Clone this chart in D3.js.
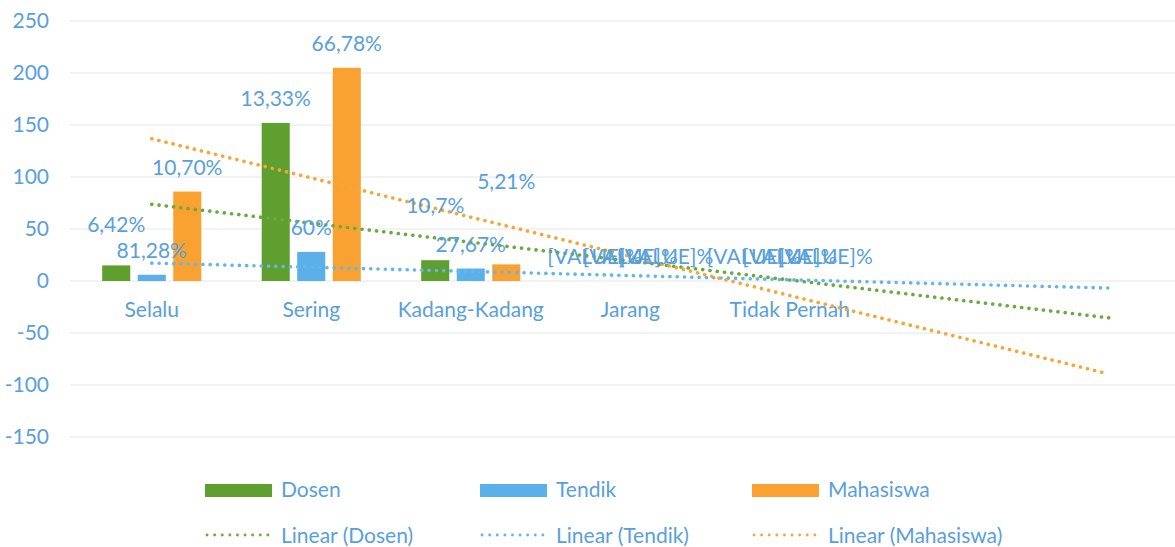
<!DOCTYPE html>
<html>
<head>
<meta charset="utf-8">
<script src="https://cdn.jsdelivr.net/npm/d3@7"></script>
<style>
  body { margin: 0; background: #fff; }
  svg text { font-family: Lato, "Open Sans", sans-serif; fill: #58a0dd; }
</style>
</head>
<body>
<div id="chart"></div>
<script>
// categories shown on the x axis (trendlines are forecast 2 periods forward)
const categories = ["Selalu", "Sering", "Kadang-Kadang", "Jarang", "Tidak Pernah"];
const forwardPeriods = 2;
const seriesNames = ["Dosen", "Tendik", "Mahasiswa"];

const dosen = [15, 152, 20, 0, 0];
const tendik = [6, 28, 12, 0, 0];
const mahasiswa = [86, 205, 16, 0, 0];

const dosenLabels = ["6,42%", "13,33%", "10,7%", "[VALUE]%", "[VALUE]%"];
const tendikLabels = ["81,28%", "60%", "27,67%", "[VALUE]%", "[VALUE]%"];
const mahasiswaLabels = ["10,70%", "66,78%", "5,21%", "[VALUE]%", "[VALUE]%"];

const yTicks = [250, 200, 150, 100, 50, 0, -50, -100, -150];

const colors = { Dosen: "#5f9f30", Tendik: "#5cb0ea", Mahasiswa: "#f9a232" };
const trendColors = { Dosen: "#6aaa3a", Tendik: "#62b6ea", Mahasiswa: "#f7a635" };

// labels that were dragged away from the default spot (series, category index, extra dy)
const labelNudge = [["Dosen", 0, -16], ["Dosen", 2, -30], ["Mahasiswa", 2, -58]];

const width = 1175, height = 547;
const plotLeft = 72, step = 159.5;

const svg = d3.select("#chart")
  .append("svg")
  .attr("width", width)
  .attr("height", height);

const nBands = categories.length + forwardPeriods;
const x0 = d3.scaleBand()
  .domain(d3.range(nBands))
  .range([plotLeft, plotLeft + nBands * step]);

const x1 = d3.scaleBand()
  .domain(seriesNames)
  .range([0, x0.bandwidth()])
  .paddingInner(0.21)
  .paddingOuter(0.85);

const y = d3.scaleLinear()
  .domain([-150, 250])
  .range([437, 21]);

// grid
svg.append("g")
  .selectAll("line")
  .data(yTicks)
  .join("line")
  .attr("x1", 70)
  .attr("x2", 1175)
  .attr("y1", d => y(d))
  .attr("y2", d => y(d))
  .attr("stroke", "#e4e6e8")
  .attr("stroke-width", 1);

// y axis labels (plain hyphen for negatives, as in the original)
const yAxis = svg.append("g")
  .attr("transform", "translate(49,0)")
  .call(d3.axisLeft(y).tickValues(yTicks).tickSize(0).tickPadding(0)
    .tickFormat(d => String(d)));
yAxis.select(".domain").remove();
yAxis.selectAll("text")
  .attr("font-size", 21)
  .attr("fill", "#58a0dd")
  .style("font-family", "Lato, sans-serif");

// category labels
const xAxis = svg.append("g")
  .attr("transform", `translate(0, ${y(0)})`)
  .call(d3.axisBottom(x0)
    .tickSize(0)
    .tickPadding(21)
    .tickFormat(i => categories[i] || ""));
xAxis.select(".domain").remove();
xAxis.selectAll("text")
  .attr("font-size", 21)
  .attr("fill", "#58a0dd")
  .style("font-family", "Lato, sans-serif");

const table = seriesNames.map((name, si) => ({
  name,
  values: [dosen, tendik, mahasiswa][si],
  labels: [dosenLabels, tendikLabels, mahasiswaLabels][si]
}));

// bars
const groups = svg.append("g")
  .selectAll("g")
  .data(categories.map((c, i) => i))
  .join("g")
  .attr("transform", i => `translate(${x0(i)},0)`);

groups.selectAll("rect")
  .data(i => table.map(s => ({ name: s.name, v: s.values[i] })))
  .join("rect")
  .attr("x", d => x1(d.name))
  .attr("width", x1.bandwidth())
  .attr("y", d => y(Math.max(0, d.v)))
  .attr("height", d => Math.abs(y(d.v) - y(0)))
  .attr("fill", d => colors[d.name]);

// linear trendlines (least squares over the categories, extended forward)
function linearFit(vals) {
  const xs = vals.map((v, i) => i + 1);
  const mx = d3.mean(xs), my = d3.mean(vals);
  const slope = d3.sum(xs, (xv, i) => (xv - mx) * (vals[i] - my)) /
    d3.sum(xs, xv => (xv - mx) * (xv - mx));
  return xv => my + slope * (xv - mx);
}

const trendLine = d3.line()
  .x(d => x0(d[0]) + x0.bandwidth() / 2)
  .y(d => y(d[1]));

table.forEach(s => {
  const f = linearFit(s.values);
  const pts = [[0, f(1)], [nBands - 1, f(nBands)]];
  svg.append("path")
    .attr("d", trendLine(pts))
    .attr("fill", "none")
    .attr("stroke", trendColors[s.name])
    .attr("stroke-width", 3.6)
    .attr("stroke-linecap", "round")
    .attr("stroke-dasharray", "0.1 7.2");
});

// data labels
const labelData = [];
table.forEach(s => {
  s.values.forEach((v, i) => {
    const nudge = labelNudge.find(n => n[0] === s.name && n[1] === i);
    labelData.push({
      name: s.name, i, v, text: s.labels[i],
      dy: nudge ? nudge[2] : 0
    });
  });
});

svg.append("g")
  .selectAll("text")
  .data(labelData)
  .join("text")
  .attr("x", d => x0(d.i) + x1(d.name) + x1.bandwidth() / 2)
  .attr("y", d => y(Math.max(0, d.v)) - 17 + d.dy)
  .attr("text-anchor", "middle")
  .attr("font-size", 21)
  .text(d => d.text);

// legend
const legendX = [205, 480, 752];
const legend = svg.append("g");
seriesNames.forEach((name, i) => {
  legend.append("rect")
    .attr("x", legendX[i])
    .attr("y", 484)
    .attr("width", 67)
    .attr("height", 13)
    .attr("fill", colors[name]);
  legend.append("text")
    .attr("x", legendX[i] + 76)
    .attr("y", 497)
    .attr("font-size", 21)
    .text(name);
  legend.append("line")
    .attr("x1", legendX[i] + 2)
    .attr("x2", legendX[i] + 66)
    .attr("y1", 535)
    .attr("y2", 535)
    .attr("stroke", trendColors[name])
    .attr("stroke-width", 2.8)
    .attr("stroke-linecap", "round")
    .attr("stroke-dasharray", "0.1 7.5");
  legend.append("text")
    .attr("x", legendX[i] + 76)
    .attr("y", 543)
    .attr("font-size", 21)
    .text(`Linear (${name})`);
});
</script>
</body>
</html>
